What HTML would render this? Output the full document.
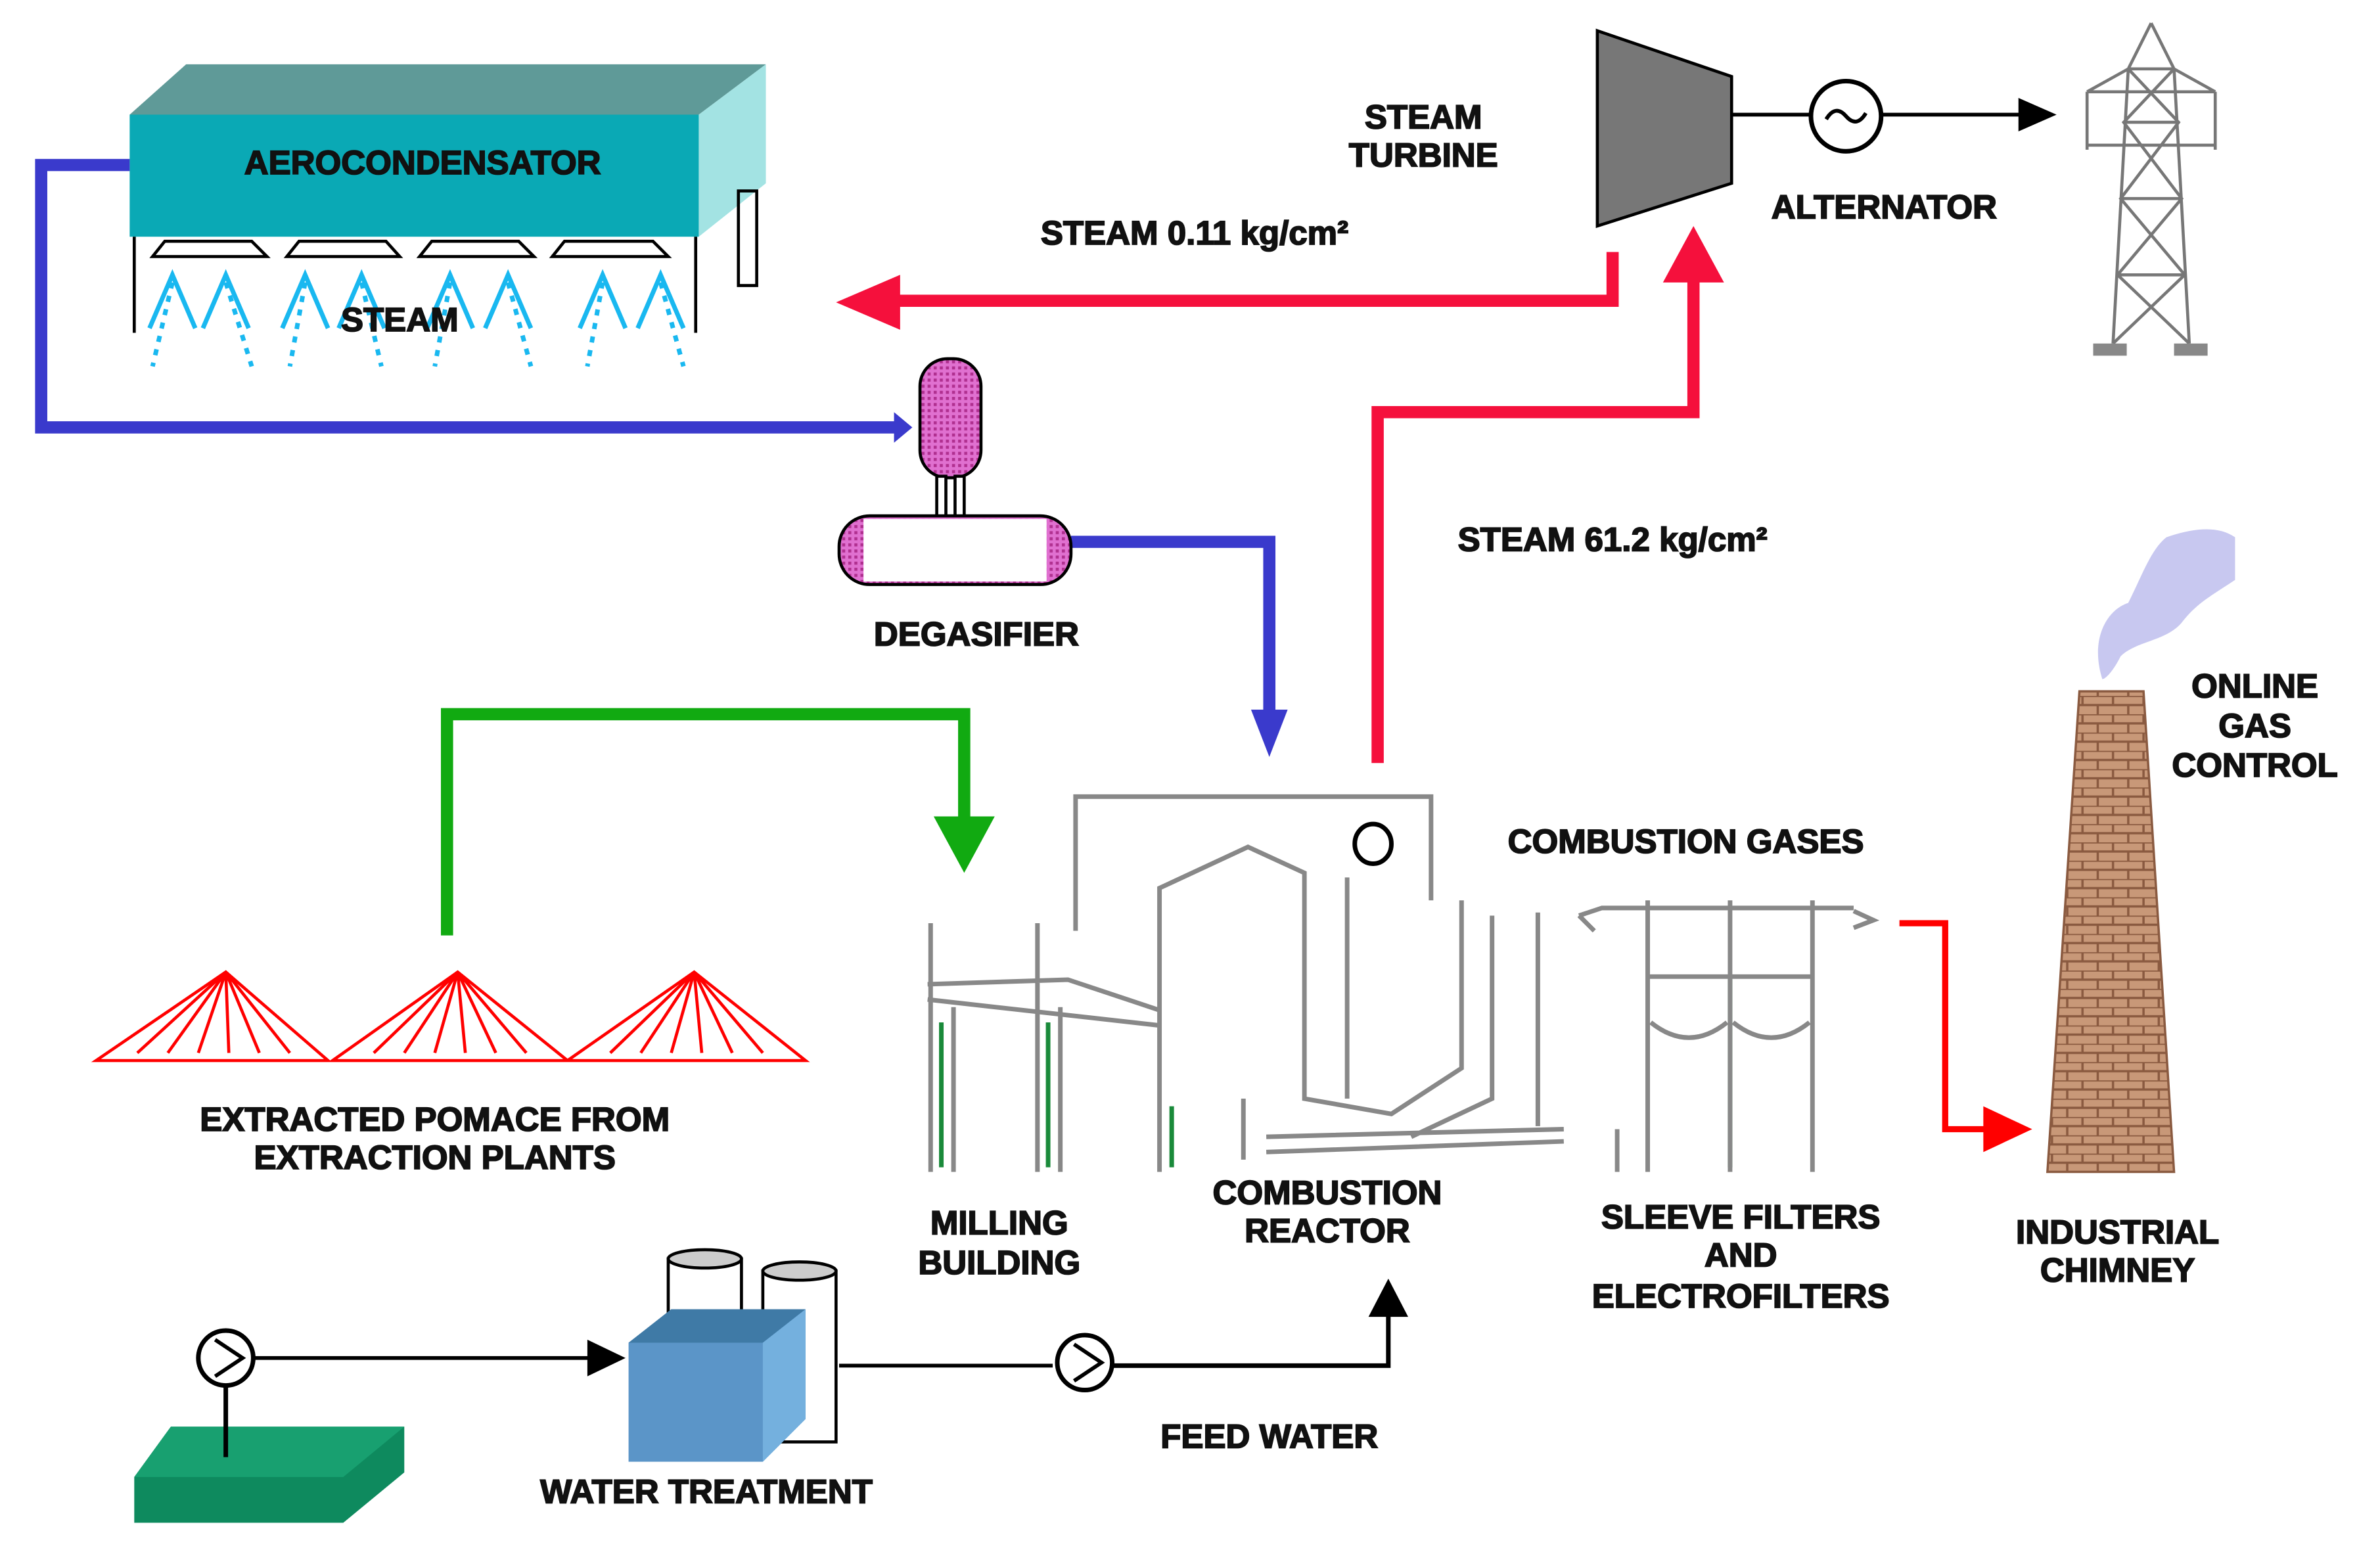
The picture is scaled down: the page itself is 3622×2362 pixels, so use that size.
<!DOCTYPE html>
<html><head><meta charset="utf-8"><style>
html,body{margin:0;padding:0;background:#fff;}
svg{display:block;}
text{font-family:"Liberation Sans",Arial,sans-serif;font-weight:bold;font-size:22px;fill:#111;stroke:#111;stroke-width:0.8;text-anchor:middle;}
</style></head><body>
<svg width="3622" height="2362" viewBox="0 0 1560 1017" xmlns="http://www.w3.org/2000/svg">
<defs>
<pattern id="pk" width="4" height="4" patternUnits="userSpaceOnUse"><rect width="4" height="4" fill="#e070d0"/><rect width="2" height="2" fill="#b03090"/></pattern>
<pattern id="br" width="20" height="12" patternUnits="userSpaceOnUse"><rect width="20" height="12" fill="#c89878"/><path d="M0 0H20M0 6H20M5 0V6M15 6V12" stroke="#8a5a40" stroke-width="1.5"/></pattern>
</defs>
<polygon points="85,75 122,42 502,42 458,75" fill="#5f9a98"/>
<polygon points="458,75 502,42 502,120 458,155" fill="#a3e3e3"/>
<rect x="85" y="75" width="373" height="80" fill="#0aa9b5"/>
<text x="277" y="114">AEROCONDENSATOR</text>
<g stroke="#000" stroke-width="2" fill="none">
<line x1="88" y1="155" x2="88" y2="218"/><line x1="456" y1="155" x2="456" y2="218"/>
<rect x="484" y="125" width="12" height="62"/>
<path d="M100 168 L108 158 H165 L175 168 Z M188 168 L196 158 H253 L262 168 Z M275 168 L283 158 H340 L350 168 Z M362 168 L370 158 H428 L438 168 Z"/>
</g>
<g stroke="#19b8f0" stroke-width="3" fill="none">
<path d="M98 215 L113 180 L128 215 M133 215 L148 180 L163 215 M185 215 L200 180 L215 215 M222 215 L237 180 L252 215 M280 215 L295 180 L310 215 M318 215 L333 180 L348 215 M380 215 L395 180 L410 215 M418 215 L433 180 L448 215"/>
<path d="M113 185 L100 240 M148 185 L165 240 M200 185 L190 240 M237 185 L250 240 M295 185 L285 240 M333 185 L348 240 M395 185 L385 240 M433 185 L448 240" stroke-dasharray="4 5"/>
</g>
<text x="262" y="217">STEAM</text>
<polyline points="85,108 27,108 27,280 588,280" fill="none" stroke="#3a3acc" stroke-width="8"/>
<polygon points="586,270 598,280 586,290" fill="#3a3acc"/>
<polyline points="702,355 832,355 832,470" fill="none" stroke="#3a3acc" stroke-width="8"/>
<polygon points="820,465 844,465 832,496" fill="#3a3acc"/>
<rect x="603" y="235" width="40" height="78" rx="18" fill="url(#pk)" stroke="#000" stroke-width="2"/>
<rect x="614" y="312" width="6" height="27" fill="#fff" stroke="#000" stroke-width="2"/><rect x="626" y="312" width="6" height="27" fill="#fff" stroke="#000" stroke-width="2"/>
<rect x="550" y="338" width="152" height="45" rx="20" fill="url(#pk)" stroke="#000" stroke-width="2"/>
<rect x="566" y="340" width="120" height="41" fill="#fff"/>
<text x="640" y="423">DEGASIFIER</text>
<polyline points="1057,165 1057,197 585,197" fill="none" stroke="#f5103c" stroke-width="8"/>
<polygon points="590,180 548,198 590,216" fill="#f5103c"/>
<polyline points="903,500 903,270 1110,270 1110,180" fill="none" stroke="#f5103c" stroke-width="8"/>
<polygon points="1090,185 1110,148 1130,185" fill="#f5103c"/>
<text x="783" y="160">STEAM 0.11  kg/cm²</text>
<text x="1057" y="361">STEAM 61.2  kg/cm²</text>
<polygon points="1047,20 1135,50 1135,120 1047,148" fill="#777" stroke="#000" stroke-width="2"/>
<text x="933" y="84">STEAM</text><text x="933" y="109">TURBINE</text>
<line x1="1135" y1="75" x2="1325" y2="75" stroke="#000" stroke-width="2.5"/>
<circle cx="1210" cy="76" r="23" fill="#fff" stroke="#000" stroke-width="3"/>
<path d="M1197 78 q6 -10 13 -2 q7 8 13 -2" fill="none" stroke="#000" stroke-width="2.5"/>
<polygon points="1323,64 1348,75 1323,86" fill="#000"/>
<text x="1235" y="143">ALTERNATOR</text>
<g stroke="#777" stroke-width="2" fill="none">
<path d="M1410 15 L1395 45 L1385 225 M1410 15 L1425 45 L1435 225 M1368 60 H1452 M1368 95 H1452 M1395 45 H1425 M1392 80 H1428 M1390 130 H1430 M1388 180 H1432 M1395 45 L1428 80 L1390 130 L1432 180 L1385 225 M1425 45 L1392 80 L1430 130 L1388 180 L1435 225 M1368 60 V98 M1452 60 V98 M1368 60 L1395 45 M1452 60 L1425 45"/>
</g>
<rect x="1372" y="225" width="22" height="8" fill="#888"/><rect x="1425" y="225" width="22" height="8" fill="#888"/>
<polyline points="293,613 293,468 632,468 632,540" fill="none" stroke="#11aa11" stroke-width="8"/>
<polygon points="612,535 652,535 632,572" fill="#11aa11"/>
<g stroke="#f00" stroke-width="2" fill="none">
<path d="M63 695 L148 637 L215 695 Z M218 695 L300 637 L372 695 Z M372 695 L455 637 L528 695 Z"/>
<path d="M148 637 L90 690 M148 637 L110 690 M148 637 L130 690 M148 637 L150 690 M148 637 L170 690 M148 637 L190 690 M300 637 L245 690 M300 637 L265 690 M300 637 L285 690 M300 637 L305 690 M300 637 L325 690 M300 637 L345 690 M455 637 L400 690 M455 637 L420 690 M455 637 L440 690 M455 637 L460 690 M455 637 L480 690 M455 637 L500 690"/>
</g>
<text x="285" y="741">EXTRACTED POMACE FROM</text><text x="285" y="766">EXTRACTION PLANTS</text>
<g stroke="#888" stroke-width="3" fill="none">
<path d="M610 605 V768 M625 660 V768 M680 605 V768 M695 660 V768 M608 655 L760 672 M608 645 L700 642 L760 662"/>
<path d="M705 610 V522 H938 V590 M760 768 V582 L818 555 L855 572 V720 L912 730 L958 700 V590 M855 600 V720 M883 575 V720 M978 600 V720 L925 745 M815 720 V760 M830 745 L1025 740 M830 755 L1025 748 M1008 598 V738"/>
</g>
<ellipse cx="900" cy="553" rx="12" ry="13" fill="#fff" stroke="#000" stroke-width="3"/>
<g stroke="#1a8a3a" stroke-width="3"><line x1="617" y1="670" x2="617" y2="765"/><line x1="687" y1="670" x2="687" y2="765"/><line x1="768" y1="725" x2="768" y2="765"/><line x1="1134" y1="640" x2="1134" y2="765"/></g>
<text x="655" y="809">MILLING</text><text x="655" y="835">BUILDING</text>
<text x="870" y="789">COMBUSTION</text><text x="870" y="814">REACTOR</text>
<text x="1105" y="559">COMBUSTION GASES</text>
<g stroke="#888" stroke-width="3" fill="none">
<path d="M1080 590 V768 M1134 590 V768 M1188 590 V768 M1060 768 V740 M1035 600 L1050 595 H1215 M1035 600 L1045 610 M1080 640 H1188 M1082 670 Q1107 690 1132 670 M1136 670 Q1161 690 1186 670 M1215 597 L1228 603 L1215 608"/>
</g>
<text x="1141" y="805">SLEEVE FILTERS</text><text x="1141" y="830">AND</text><text x="1141" y="857">ELECTROFILTERS</text>
<polyline points="1245,605 1275,605 1275,740 1305,740" fill="none" stroke="#f00" stroke-width="4"/>
<polygon points="1300,725 1332,740 1300,755" fill="#f00"/>
<polygon points="1363,453 1405,453 1425,768 1342,768" fill="url(#br)" stroke="#8a5a40" stroke-width="1.5"/>
<path d="M1378 445 C1370 420 1380 400 1395 395 C1405 375 1410 360 1420 352 C1440 345 1455 345 1465 352 L1465 380 C1450 390 1440 395 1430 408 C1420 420 1400 420 1390 430 C1385 440 1380 445 1378 445 Z" fill="#c8c8f0"/>
<text x="1478" y="457">ONLINE</text><text x="1478" y="483">GAS</text><text x="1478" y="509">CONTROL</text>
<text x="1388" y="815">INDUSTRIAL</text><text x="1388" y="840">CHIMNEY</text>
<polygon points="88,968 112,935 265,935 265,965 225,998 88,998" fill="#0e8a5e"/>
<polygon points="88,968 112,935 265,935 225,968" fill="#18a070"/>
<line x1="148" y1="905" x2="148" y2="955" stroke="#000" stroke-width="3"/>
<circle cx="148" cy="890" r="18" fill="#fff" stroke="#000" stroke-width="3"/>
<path d="M141 878 L159 890 L141 902" fill="none" stroke="#000" stroke-width="2.5"/>
<line x1="166" y1="890" x2="395" y2="890" stroke="#000" stroke-width="2.5"/>
<polygon points="385,878 410,890 385,902" fill="#000"/>
<g stroke="#000" stroke-width="2" fill="#fff">
<rect x="438" y="825" width="48" height="50"/><ellipse cx="462" cy="825" rx="24" ry="6" fill="#ccc"/>
<rect x="500" y="833" width="48" height="112"/><ellipse cx="524" cy="833" rx="24" ry="6" fill="#ccc"/>
</g>
<polygon points="412,880 440,858 528,858 528,930 500,958 412,958" fill="#5b95c8"/>
<polygon points="412,880 440,858 528,858 500,880" fill="#3f7aa6"/>
<polygon points="500,880 528,858 528,930 500,958" fill="#74b0de"/>
<line x1="550" y1="895" x2="690" y2="895" stroke="#000" stroke-width="2.5"/>
<circle cx="711" cy="893" r="18" fill="#fff" stroke="#000" stroke-width="3"/>
<path d="M704 881 L722 893 L704 905" fill="none" stroke="#000" stroke-width="2.5"/>
<polyline points="729,895 910,895 910,860" fill="none" stroke="#000" stroke-width="3"/>
<polygon points="897,863 910,838 923,863" fill="#000"/>
<text x="832" y="949">FEED WATER</text>
<text x="463" y="985">WATER TREATMENT</text>
</svg>
</body></html>
